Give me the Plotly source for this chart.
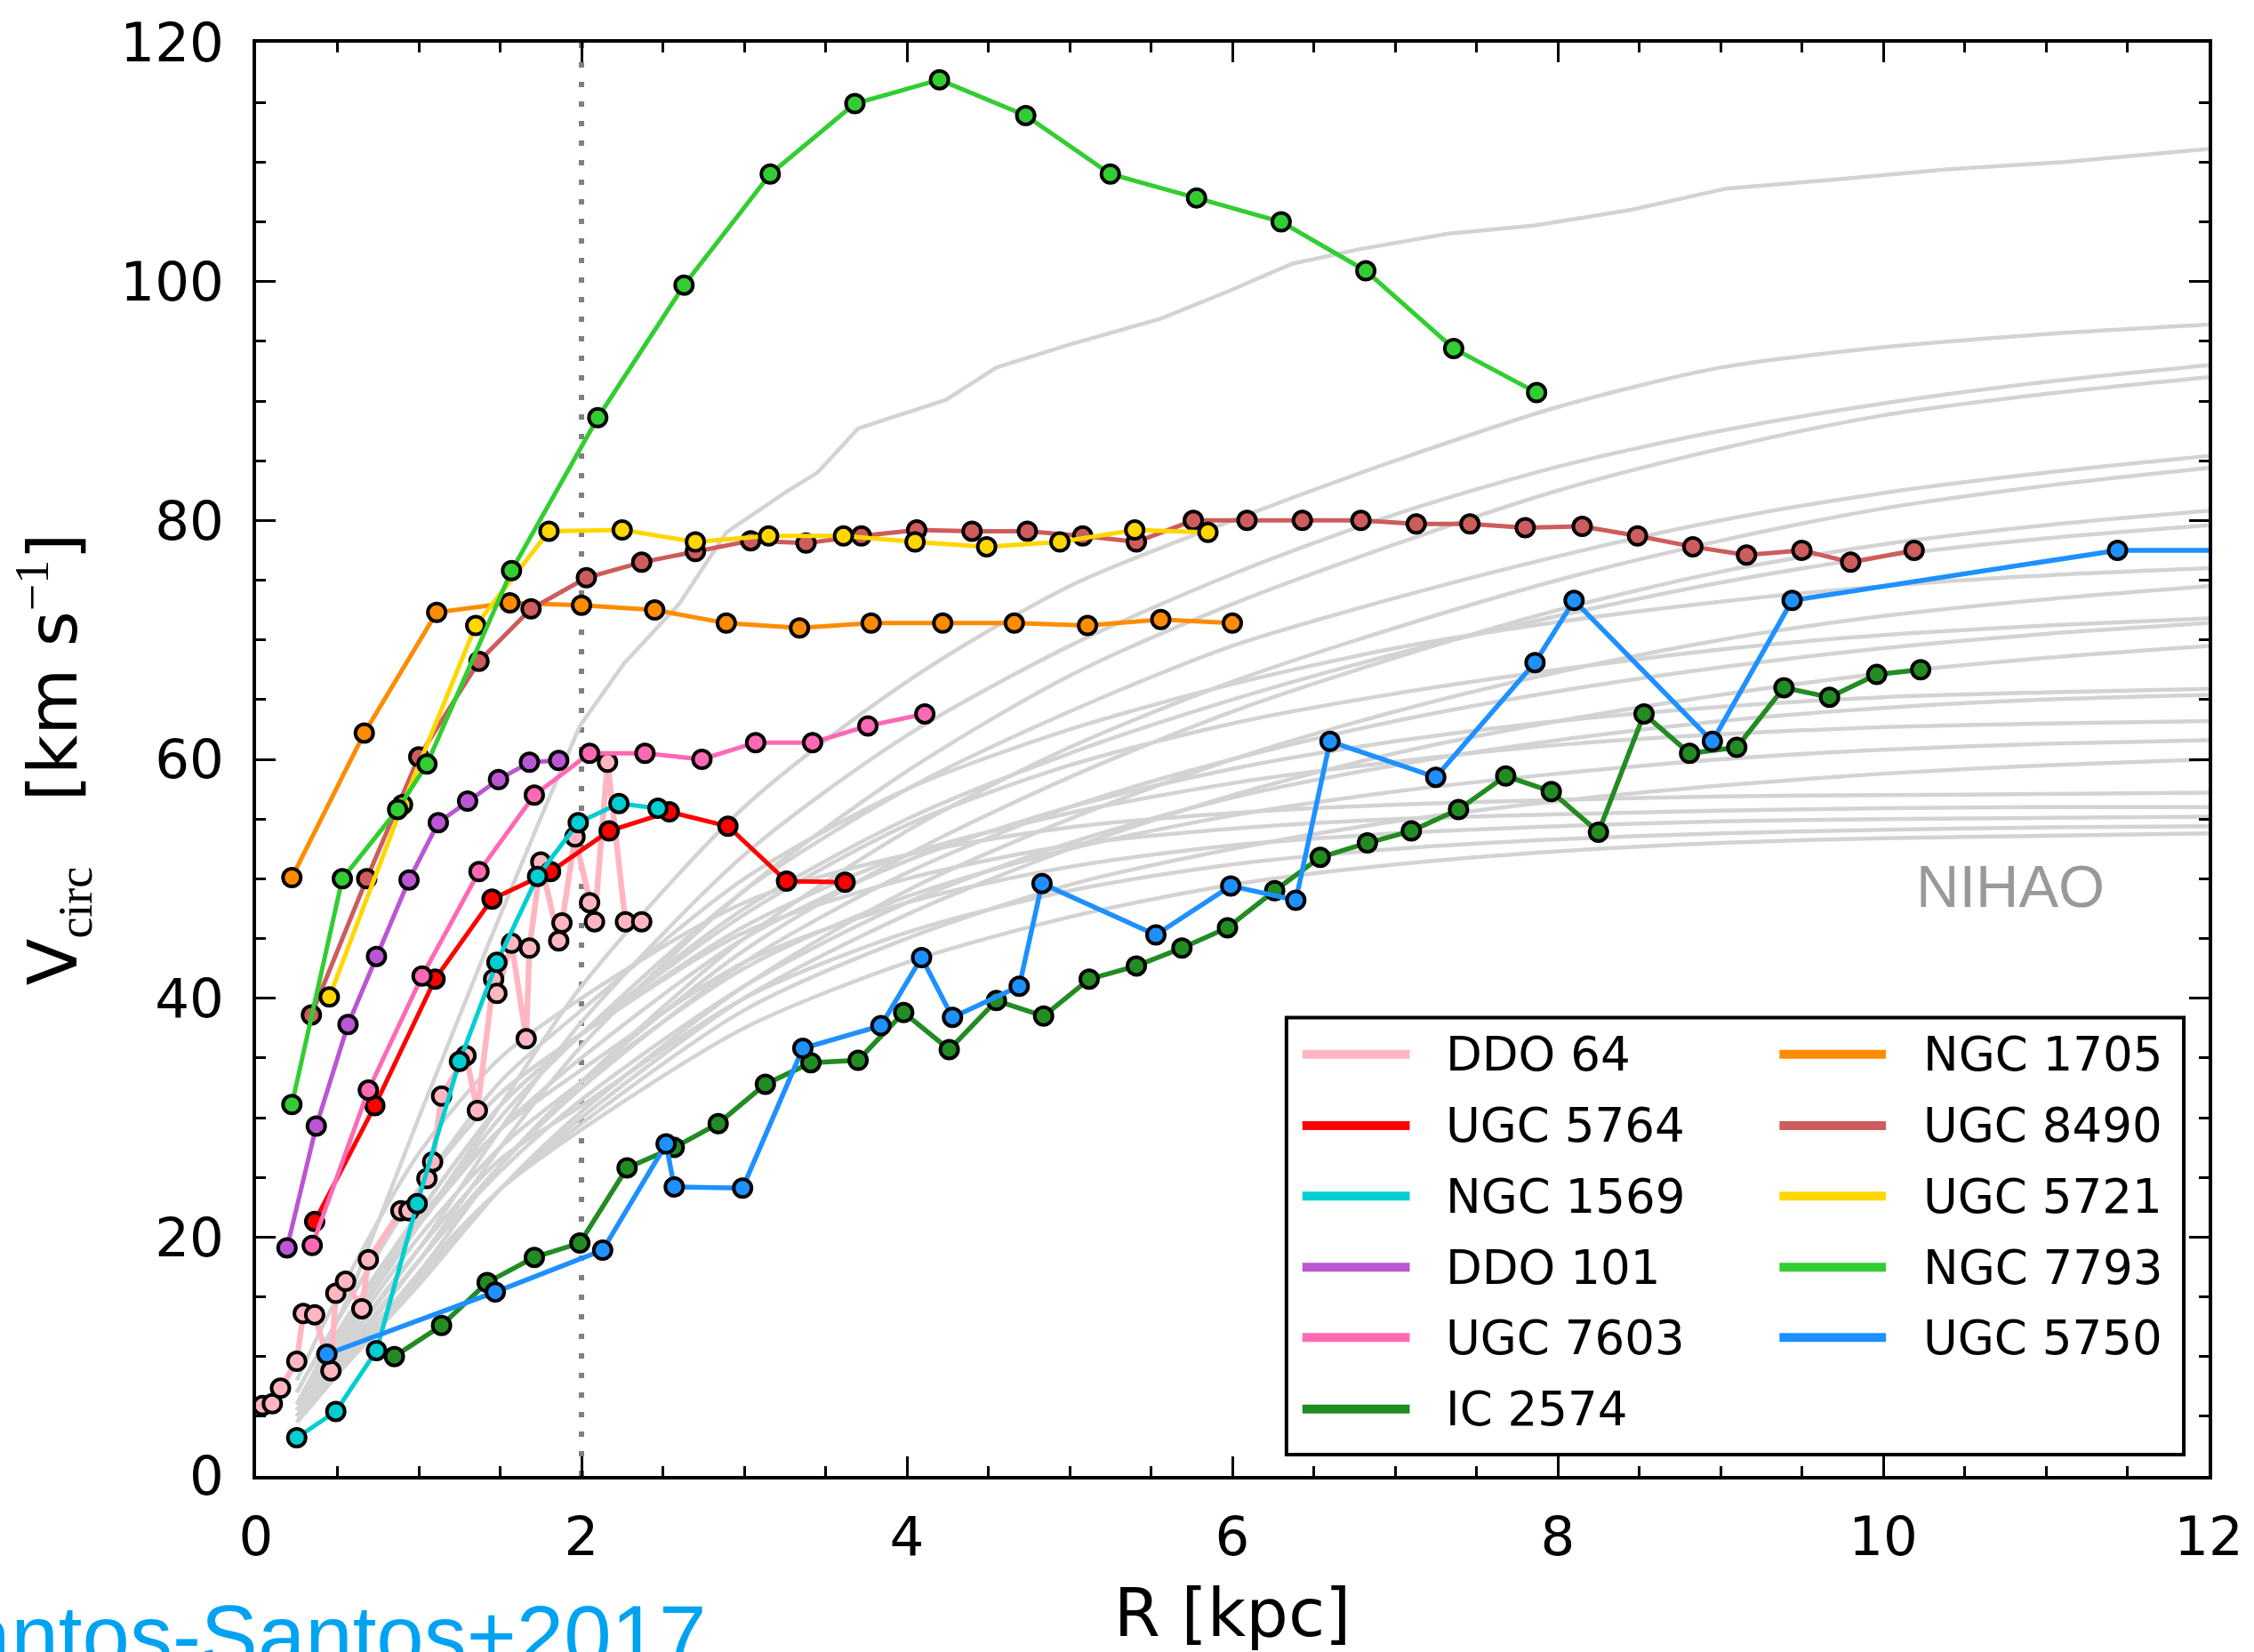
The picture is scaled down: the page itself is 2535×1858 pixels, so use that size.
import plotly.graph_objects as go

# ---------------- data ----------------
ddo64_r = [0.04, 0.10, 0.15, 0.25, 0.29, 0.36, 0.46, 0.49, 0.55, 0.65, 0.69, 0.89, 0.94, 1.05, 1.085,
           1.14, 1.29, 1.36, 1.46, 1.48, 1.57, 1.66, 1.68, 1.75, 1.86, 1.88, 1.96, 2.05, 2.08, 2.16, 2.27, 2.37]
ddo64_v = [5.9, 6.05, 7.35, 9.6, 13.6, 13.5, 8.8, 15.3, 16.3, 14.0, 18.1, 22.2, 22.2, 24.9, 26.3,
           31.8, 35.2, 30.6, 41.6, 40.4, 44.6, 36.6, 44.2, 51.4, 44.8, 46.3, 53.5, 48.0, 46.4, 59.75, 46.4, 46.4]

ugc5764_r = [0.36, 0.73, 1.10, 1.45, 1.81, 2.17, 2.54, 2.90, 3.26, 3.62]
ugc5764_v = [21.3, 31.0, 41.6, 48.3, 50.6, 54.0, 55.6, 54.4, 49.8, 49.7]

ngc1569_r = [0.25, 0.49, 0.74, 0.99, 1.25, 1.48, 1.73, 1.98, 2.23, 2.47]
ngc1569_v = [3.2, 5.4, 10.5, 22.8, 34.7, 43.0, 50.2, 54.7, 56.3, 55.9]

ddo101_r = [0.19, 0.37, 0.565, 0.74, 0.94, 1.12, 1.30, 1.49, 1.68, 1.86]
ddo101_v = [19.1, 29.3, 37.8, 43.5, 49.9, 54.7, 56.5, 58.3, 59.75, 59.9]

ugc7603_r = [0.345, 0.69, 1.02, 1.37, 1.71, 2.05, 2.39, 2.74, 3.07, 3.42, 3.76, 4.11]
ugc7603_v = [19.3, 32.3, 41.85, 50.6, 57.0, 60.5, 60.5, 60.0, 61.4, 61.4, 62.8, 63.8]

ic2574_r = [0.85, 1.14, 1.42, 1.71, 1.99, 2.28, 2.57, 2.84, 3.13, 3.41, 3.70, 3.98, 4.26, 4.55, 4.84, 5.12, 5.41,
            5.69, 5.97, 6.26, 6.54, 6.83, 7.10, 7.39, 7.68, 7.96, 8.25, 8.53, 8.81, 9.10, 9.39, 9.67, 9.96, 10.23]
ic2574_v = [10.0, 12.6, 16.2, 18.3, 19.5, 25.8, 27.5, 29.5, 32.8, 34.6, 34.8, 38.8, 35.7, 39.8, 38.5, 41.6, 42.7,
            44.2, 45.9, 49.0, 51.8, 53.0, 54.0, 55.8, 58.6, 57.3, 53.9, 63.8, 60.5, 61.0, 66.0, 65.2, 67.1, 67.5]

ngc1705_r = [0.22, 0.665, 1.11, 1.56, 2.0, 2.45, 2.89, 3.34, 3.78, 4.22, 4.66, 5.11, 5.56, 6.0]
ngc1705_v = [50.1, 62.2, 72.3, 73.1, 72.9, 72.5, 71.4, 71.0, 71.4, 71.4, 71.4, 71.2, 71.7, 71.4]

ugc8490_r = [0.34, 0.68, 1.0, 1.37, 1.69, 2.03, 2.37, 2.70, 3.04, 3.38, 3.72, 4.06, 4.40, 4.74, 5.08, 5.41,
             5.76, 6.09, 6.43, 6.79, 7.13, 7.46, 7.80, 8.15, 8.49, 8.83, 9.16, 9.50, 9.80, 10.19]
ugc8490_v = [38.6, 50.0, 60.2, 68.2, 72.6, 75.2, 76.5, 77.4, 78.3, 78.1, 78.7, 79.2, 79.1, 79.1, 78.7, 78.2,
             80.0, 80.0, 80.0, 80.0, 79.7, 79.7, 79.4, 79.5, 78.7, 77.8, 77.1, 77.5, 76.5, 77.5]

ugc5721_r = [0.45, 0.90, 1.35, 1.80, 2.25, 2.70, 3.15, 3.61, 4.05, 4.49, 4.94, 5.40, 5.85]
ugc5721_v = [40.1, 56.2, 71.2, 79.1, 79.2, 78.2, 78.7, 78.7, 78.2, 77.8, 78.2, 79.2, 79.0]

ngc7793_r = [0.22, 0.53, 0.87, 1.05, 1.57, 2.10, 2.63, 3.16, 3.68, 4.20, 4.73, 5.25, 5.78, 6.30, 6.82, 7.36, 7.87]
ngc7793_v = [31.1, 50.0, 55.8, 59.6, 75.8, 88.6, 99.7, 109.0, 114.9, 116.9, 113.9, 109.0, 107.0, 105.0, 100.9, 94.4, 90.7]

ugc5750_r = [0.435, 1.47, 2.13, 2.52, 2.57, 2.99, 3.36, 3.84, 4.09, 4.28, 4.69, 4.83, 5.53, 5.99, 6.39, 6.60,
             7.25, 7.86, 8.10, 8.95, 9.44, 11.44, 12.6]
ugc5750_v = [10.2, 15.4, 18.9, 27.8, 24.2, 24.1, 35.8, 37.7, 43.4, 38.4, 41.0, 49.6, 45.3, 49.4, 48.2, 61.5,
             58.5, 68.1, 73.3, 61.5, 73.3, 77.5, 77.5]

# NIHAO simulated rotation curves (grey)
nihao_top_r = [0.3, 0.6, 1.0, 1.43, 1.74, 1.99, 2.26, 2.6, 2.89, 3.27, 3.45, 3.7, 4.24, 4.55, 4.97, 5.56, 5.96,
               6.37, 6.78, 7.32, 7.86, 8.45, 9.04, 9.67, 10.39, 11.11, 12.0]
nihao_top_v = [7, 16, 30, 44.6, 54.8, 62.8, 68, 73, 79, 82.5, 84, 87.7, 90.1, 92.8, 94.6, 96.9, 99.1,
               101.5, 102.7, 104, 104.7, 106, 107.8, 108.5, 109.4, 110, 111.1]

nihao_r = [0.25, 0.5, 1, 1.5, 2, 3, 4, 5, 6, 7, 8, 9, 10, 11, 12]
nihao_v = [
    [6, 11, 21, 31, 41, 56, 66.5, 74.5, 80, 85, 89.5, 92.8, 94.5, 95.6, 96.4],
    [5.5, 10, 19, 29, 38, 52, 62, 69.5, 75.5, 80.5, 84.5, 87.5, 89.8, 91.6, 93.0],
    [5, 9.5, 18, 27.5, 36, 49, 59, 67, 73, 78, 82.5, 86, 88.8, 90.6, 92.0],
    [6, 11, 21, 30, 37, 49, 57.5, 64, 69.5, 73.5, 77, 80, 82.3, 84, 85.4],
    [5, 9, 17, 26, 33, 45, 54, 61, 66.5, 71, 75, 78.3, 81, 82.9, 84.4],
    [5, 9, 18, 26, 33, 44, 52, 58.5, 64, 68.5, 72.5, 75.7, 78, 79.6, 80.8],
    [6, 12, 22, 31, 37, 47.5, 55, 60.5, 65, 68.8, 72, 74.8, 77, 78.5, 79.6],
    [7, 13, 24, 33, 39, 50, 57.5, 62.5, 66.3, 69.3, 71.5, 73.2, 74.5, 75.4, 76.0],
    [4.5, 8.5, 16, 24, 30.5, 41, 49, 55, 60, 64, 67.3, 70, 72, 73.4, 74.5],
    [6, 12, 22, 31, 37, 47, 54.5, 59.5, 63, 65.5, 67.5, 69.2, 70.4, 71.2, 71.8],
    [5, 9.5, 18, 26, 32.5, 43, 50.5, 56, 60, 63.2, 65.7, 67.7, 69.3, 70.5, 71.4],
    [4.5, 8.5, 16.5, 24, 30, 40, 47, 52.5, 57, 60.5, 63.2, 65.4, 67.2, 68.5, 69.5],
    [6, 11.5, 21, 29, 35, 45, 51.5, 56, 59.2, 61.5, 63.2, 64.4, 65.2, 65.6, 65.9],
    [5, 9.5, 18, 25.5, 31.5, 41, 48, 53, 56.8, 59.5, 61.6, 63.2, 64.3, 65, 65.4],
    [7, 13, 24, 32, 37, 46, 52, 55.5, 58, 59.8, 61.2, 62.1, 62.7, 63, 63.2],
    [5.5, 10.5, 20, 27.5, 33, 42.5, 48.5, 52.5, 55.3, 57.3, 58.8, 60, 60.8, 61.3, 61.6],
    [4.5, 8.5, 16.5, 24, 29.5, 39, 45, 49.5, 52.5, 54.8, 56.5, 57.8, 58.8, 59.5, 60.0],
    [8, 15, 27, 35, 40, 48, 52, 54.3, 55.5, 56.2, 56.6, 56.9, 57.0, 57.1, 57.2],
    [7, 13, 24, 32, 37, 45.5, 50, 52.8, 54.2, 55, 55.4, 55.7, 55.9, 56, 56.0],
    [6, 11.5, 21.5, 29, 34, 43, 48, 51, 52.8, 53.8, 54.4, 54.8, 55, 55.1, 55.2],
    [5, 10, 19, 26.5, 31, 40, 45.5, 49, 51.2, 52.5, 53.3, 53.8, 54.1, 54.3, 54.4],
    [4.5, 8.5, 17, 24, 29, 37.5, 43, 46.8, 49.5, 51.2, 52.3, 53, 53.4, 53.6, 53.8],
]

galaxy_names = ["DDO 64", "UGC 5764", "NGC 1569", "DDO 101", "UGC 7603", "IC 2574",
                "NGC 1705", "UGC 8490", "UGC 5721", "NGC 7793", "UGC 5750"]
galaxy_colors = ["#ffb6c1", "#ff0000", "#00ced1", "#ba55d3", "#ff69b4", "#228b22",
                 "#ff8c00", "#cd5c5c", "#ffd700", "#32cd32", "#1e90ff"]
galaxy_r = [ddo64_r, ugc5764_r, ngc1569_r, ddo101_r, ugc7603_r, ic2574_r,
            ngc1705_r, ugc8490_r, ugc5721_r, ngc7793_r, ugc5750_r]
galaxy_v = [ddo64_v, ugc5764_v, ngc1569_v, ddo101_v, ugc7603_v, ic2574_v,
            ngc1705_v, ugc8490_v, ugc5721_v, ngc7793_v, ugc5750_v]
line_widths = [6.5, 5, 5, 5, 5, 5.5, 5, 5, 5, 5, 5.5]

# ---------------- figure ----------------
W, H = 2535, 1858
L, R, T, B = 288, 45, 48, 190
fig = go.Figure()

GREY = "#d3d3d3"
fig.add_trace(go.Scatter(x=nihao_top_r, y=nihao_top_v, mode="lines",
                         line=dict(color=GREY, width=4.5), showlegend=False, hoverinfo="skip"))
for v in nihao_v:
    fig.add_trace(go.Scatter(x=nihao_r, y=v, mode="lines",
                             line=dict(color=GREY, width=4.5, shape="spline", smoothing=0.8),
                             showlegend=False, hoverinfo="skip"))

for name, col, rr, vv, lw in zip(galaxy_names, galaxy_colors, galaxy_r, galaxy_v, line_widths):
    fig.add_trace(go.Scatter(x=rr, y=vv, mode="lines+markers", name=name,
                             line=dict(color=col, width=lw),
                             marker=dict(color=col, size=20, line=dict(color="black", width=4)),
                             showlegend=False, cliponaxis=True))

# dotted vertical line at R = 2 kpc
fig.add_shape(type="line", xref="x", yref="y", x0=2, x1=2, y0=0, y1=120,
              line=dict(color="#808080", width=6, dash="6px,16px"), layer="below")

# ---------------- manual legend (two columns) ----------------
plot_w = W - L - R
plot_h = H - T - B
def px_x(p):
    return (p - L) / plot_w
def px_y(p):
    return (H - B - p) / plot_h

fig.add_shape(type="rect", xref="paper", yref="paper",
              x0=px_x(1450), x1=px_x(2462), y0=px_y(1644), y1=px_y(1150),
              line=dict(color="black", width=4), fillcolor="white", layer="above")
rows_px = [1191.5, 1272, 1351.6, 1432, 1511.6, 1592.5]
cols = [(1468, 1589, 1628), (2006, 2126, 2166)]
for i, (name, col) in enumerate(zip(galaxy_names, galaxy_colors)):
    c = 0 if i < 6 else 1
    rrow = i if i < 6 else i - 6
    xa, xb, xt = cols[c]
    yy = px_y(rows_px[rrow])
    fig.add_shape(type="line", xref="paper", yref="paper", x0=px_x(xa), x1=px_x(xb), y0=yy, y1=yy,
                  line=dict(color=col, width=10), layer="above")
    fig.add_annotation(xref="paper", yref="paper", x=px_x(xt), y=yy, text=name, showarrow=False,
                       xanchor="left", yanchor="middle",
                       font=dict(family="DejaVu Sans", size=53, color="black"))

fig.add_annotation(xref="x", yref="y", x=10.78, y=49.4, text="NIHAO", showarrow=False,
                   xanchor="center", yanchor="middle",
                   font=dict(family="Liberation Sans", size=67, color="#999999"))

fig.add_annotation(xref="paper", yref="paper", x=px_x(797), y=px_y(1848), text="Santos-Santos+2017",
                   showarrow=False, xanchor="right", yanchor="middle",
                   font=dict(family="Liberation Sans", size=96, color="#00a2f2"))

serif = "Liberation Serif"
ytitle = ("V<sub><span style='font-family:%s'>circ</span></sub>"
          "&#160;&#160;&#160;[km s<sup><span style='font-family:%s'>&#8722;1</span></sup>]") % (serif, serif)

axis_common = dict(showgrid=False, zeroline=False, showline=True, linecolor="black", linewidth=4,
                   mirror="ticks", ticks="inside", ticklen=22, tickwidth=3, tickcolor="black",
                   tickfont=dict(family="DejaVu Sans", size=61, color="black"))

fig.update_layout(
    width=W, height=H, margin=dict(l=L, r=R, t=T, b=B),
    paper_bgcolor="white", plot_bgcolor="white",
    font=dict(family="DejaVu Sans", color="black"),
    xaxis=dict(range=[0, 12], tickvals=[0, 2, 4, 6, 8, 10, 12],
               minor=dict(dtick=0.5, ticklen=11, tickwidth=3, ticks="inside", tickcolor="black"),
               title=dict(text="R [kpc]", font=dict(size=75), standoff=30),
               ticklabelstandoff=12, **axis_common),
    yaxis=dict(range=[0, 120], tickvals=[0, 20, 40, 60, 80, 100, 120],
               minor=dict(dtick=5, ticklen=11, tickwidth=3, ticks="inside", tickcolor="black"),
               title=dict(text=ytitle, font=dict(size=77), standoff=24),
               ticklabelstandoff=20, **axis_common),
    showlegend=False,
)

fig.write_html("out.html")
